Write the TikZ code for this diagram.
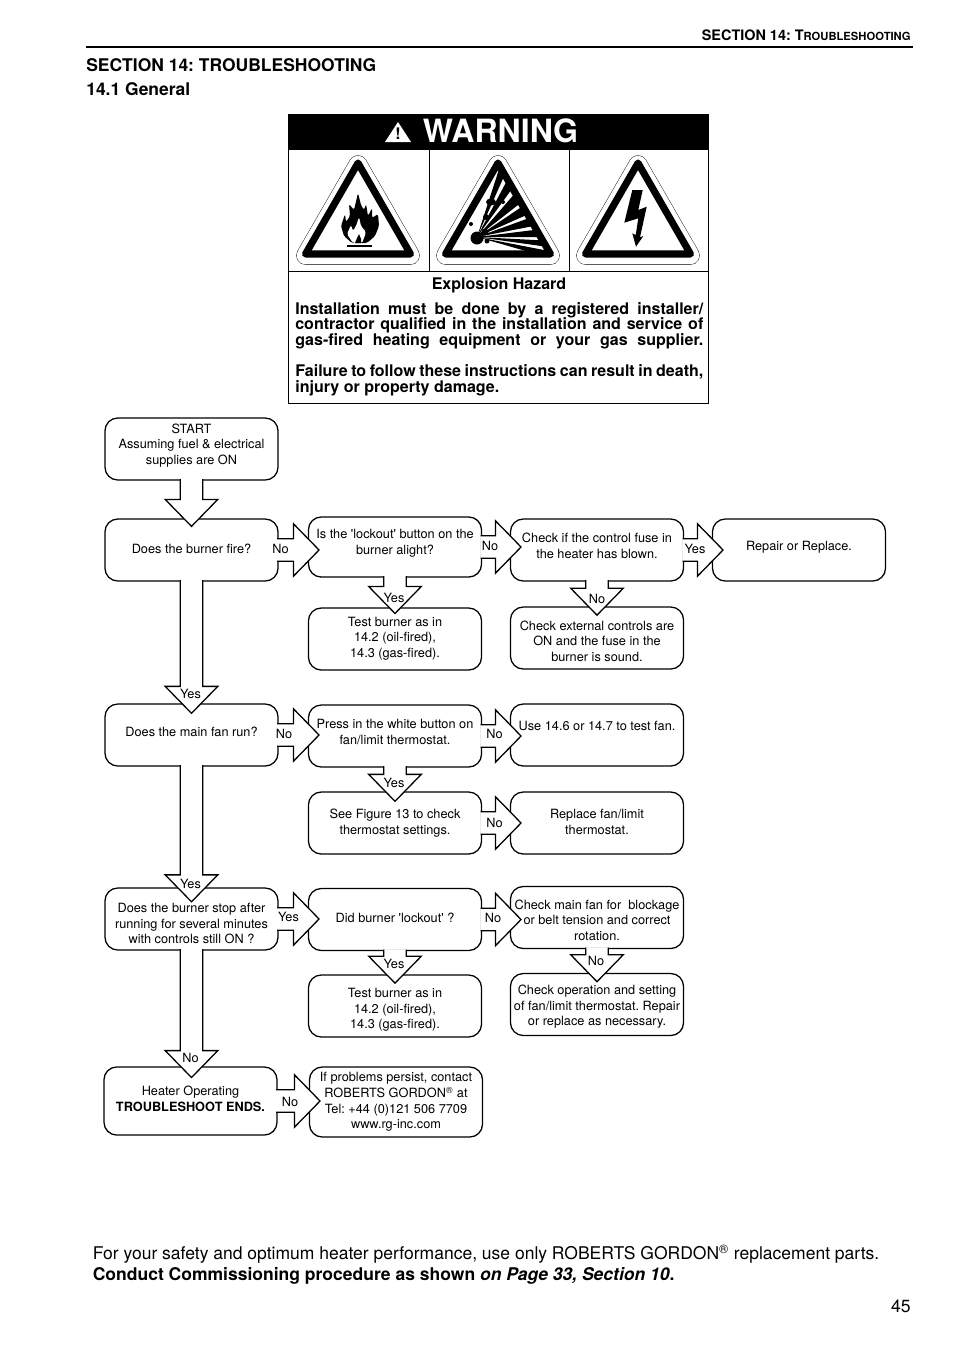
\documentclass[tikz,border=0pt]{standalone}
\usepackage{fontspec}
\setmainfont{TeX Gyre Heros}
\usetikzlibrary{calc}
\frenchspacing
\tikzset{
    flowbox/.style={rectangle,draw,line width=.8pt,rounded corners=8pt,inner sep=0pt,align=center,
        minimum width=108pt,minimum height=38.7pt,font=\fontsize{7.95}{9.7}\selectfont},
    flowlabel/.style={inner sep=0pt,font=\fontsize{7.95}{9.7}\selectfont},
    flowdown/.style={draw,fill=white,line width=.8pt,to path={let \p1=(\tikztostart), \p2=(\tikztotarget) in
        (\x1-7pt,\y1+1pt) -- (\x1-7pt,\y2-#1+16.8pt) -- (\x1-16.4pt,\y2-#1+16.8pt) -- (\x1,\y2-#1)
        -- (\x1+16.4pt,\y2-#1+16.8pt) -- (\x1+7pt,\y2-#1+16.8pt) -- (\x1+7pt,\y1+1pt)}},
    flowdown/.default=5.5pt,
    flowright/.style={draw,fill=white,line width=.8pt,to path={let \p1=(\tikztostart), \p2=(\tikztotarget) in
        (\x1-1pt,\y1+7pt) -- (\x2-9pt,\y1+7pt) -- (\x2-9pt,\y1+16.4pt) -- (\x2+7pt,\y1)
        -- (\x2-9pt,\y1-16.4pt) -- (\x2-9pt,\y1-7pt) -- (\x1-1pt,\y1-7pt)}},
    hazardring/.style={line join=round,line width=#1},
    bodytext/.style={inner sep=0pt,font=\fontsize{10}{9.7}\selectfont\bfseries},
}
\begin{document}
\begin{tikzpicture}[x=0.624pt,y=-0.624pt]
    \useasboundingbox (0,0) rectangle (954,1352);

    \node[anchor=east,inner sep=0pt,font=\fontsize{9}{10}\selectfont\bfseries] (runninghead) at (911,35.5)
        {SECTION 14: T{\fontsize{7}{10}\selectfont ROUBLESHOOTING}};
    \draw[line width=1.3pt] (86,47) -- (913,47);
    \node[anchor=west,inner sep=0pt,font=\fontsize{10.9}{13}\selectfont\bfseries] (sectiontitle) at (86,65) {SECTION 14: TROUBLESHOOTING};
    \node[anchor=west,inner sep=0pt,font=\fontsize{10.9}{13}\selectfont\bfseries] (generaltitle) at (86,89) {14.1 General};

    % warning panel
    \fill (288.5,114.5) rectangle (708.5,150);
    \draw[line width=.6pt] (288.5,114.5) rectangle (708.5,403.5);
    \draw[line width=.6pt] (288.5,271) -- (708.5,271);
    \draw[line width=.6pt] (429.5,150) -- (429.5,271);
    \draw[line width=.6pt] (569,150) -- (569,271);
    \fill[white,line join=round] (385,142) -- (398,122) -- (411,142) -- cycle;
    \node[inner sep=0pt,font=\fontsize{10}{10}\selectfont\bfseries] (warnmark) at (398,134) {!};
    \node[inner sep=0pt,text=white,font=\fontsize{20}{20}\selectfont\bfseries] (warningtitle) at (500.5,131) {WARNING};
    \foreach \cx in {358,498,638} {
        \draw[hazardring=11.6pt] (\cx-52.5,255.5) -- (\cx,164.5) -- (\cx+52.5,255.5) -- cycle;
        \draw[white,hazardring=11.1pt] (\cx-52.5,255.5) -- (\cx,164.5) -- (\cx+52.5,255.5) -- cycle;
        \fill[white] (\cx-52.5,254) -- (\cx,163) -- (\cx+52.5,254) -- cycle;
    }
    % flame
    \fill[rounded corners=1pt] (352,243) -- (344,236) -- (341,226) -- (345,214) -- (346,222) -- (350,216) -- (349,204)
        -- (354,210) -- (358,193) -- (361,205) -- (364,210) -- (366,204) -- (368,216) -- (372,208) -- (372,218)
        -- (378,214) -- (379,226) -- (375,236) -- (367,243) -- cycle;
    \fill[white,rounded corners=1pt] (353,243) -- (347,234) -- (351,225) -- (353,231) -- (356,226) -- (359,217) -- (361,226)
        -- (366,232) -- (364,238) -- (362,243) -- cycle;
    \fill (355,243) -- (357,238) -- (359,234) -- (361,239) -- (361,243) -- cycle;
    \draw[line width=.8pt] (347,246) -- (372,246);
    % burst
    \begin{scope}
        \clip (498-52.5,254) -- (498,163) -- (498+52.5,254) -- cycle;
        \begin{scope}[shift={(477,237)}]
            \foreach \a/\b in {-16/-11,-8/-3,0/7,11/20,24/34,38/49,54/62,66/72} {
                \fill (0,0) -- (-\a:95) -- (-\b:95) -- cycle;
            }
        \end{scope}
        \fill (477,238) circle[radius=6.5];
        \fill (485,232) circle[radius=3.5];
        \fill (487,241) circle[radius=2.5];
        \fill (491,202) ellipse[x radius=5,y radius=3.5];
        \fill (486,217) circle[radius=3];
        \fill (503,202) circle[radius=2];
        \fill (471,224) circle[radius=2];
    \end{scope}
    % bolt
    \fill (632.3,190) -- (642.7,190) -- (638.3,210) -- (646.7,206.7) -- (640,237.3) -- (643.3,236) -- (636,246.7)
        -- (632.3,233.3) -- (635.7,235) -- (638.3,218.3) -- (624.3,222.7) -- cycle;
    \foreach \cx in {358,498,638} {
        \draw[hazardring=4.4pt] (\cx-52.5,254) -- (\cx,163) -- (\cx+52.5,254) -- cycle;
    }

    \node[bodytext] (hazardname) at (499,285) {Explosion Hazard};
    \node[bodytext,anchor=north west,text width=254.6pt,align=justify] (installtext) at (295,302)
        {Installation must be done by a registered installer/\linebreak
        contractor qualified in the installation and service of\linebreak
        gas-fired heating equipment or your gas supplier.\linebreak};
    \node[bodytext,anchor=north west,text width=254.6pt,align=justify,font=\fontsize{10}{10.3}\selectfont\bfseries] (failuretext) at (295,364)
        {Failure to follow these instructions can result in death,\linebreak
        injury or property damage.};

    % flow chart boxes
    \node[flowbox,text depth=6pt] (start) at (191.5,449) {START\\Assuming fuel \& electrical\\supplies are ON};
    \node[flowbox,text depth=1.5pt] (burnerfire) at (191.5,550) {Does the burner fire?};
    \node[flowbox,text depth=6.5pt,minimum height=37.5pt] (lockoutlit) at (395,547) {Is the \textquotesingle lockout\textquotesingle{} button on the\\burner alight?};
    \node[flowbox,text depth=5.5pt] (controlfuse) at (597,550) {Check if the control fuse in\\the heater has blown.};
    \node[flowbox,text depth=5.5pt] (repair) at (799,550) {Repair or Replace.};
    \node[flowbox,text depth=2.5pt] (testoil) at (395,639) {Test burner as in\\14.2 (oil-fired),\\14.3 (gas-fired).};
    \node[flowbox,text height=29pt] (externalctrl) at (597,638) {Check external controls are\\ON and the fuse in the\\burner is sound.};

    \node[flowbox,text depth=4pt] (mainfan) at (191.5,735) {Does the main fan run?};
    \node[flowbox,text depth=5.5pt] (whitebutton) at (395,736) {Press in the white button on\\fan/limit thermostat.};
    \node[flowbox,text depth=11.5pt] (testfan) at (597,735) {Use 14.6 or 14.7 to test fan.};
    \node[flowbox,text depth=1.7pt] (figure) at (395,823) {See Figure 13 to check\\thermostat settings.};
    \node[flowbox,text depth=1.7pt] (replacefan) at (597,823) {Replace fan/limit\\thermostat.};

    \node[flowbox,text height=31pt] (burnerstop) at (191.5,919) {Does the burner stop after\\running for several minutes\\with controls still ON ?};
    \node[flowbox,text depth=2pt] (didlockout) at (395,919.5) {Did burner \textquotesingle lockout\textquotesingle{} ?};
    \node[flowbox,text height=28.5pt] (checkbelt) at (597,917.5) {Check main fan for ~blockage\\or belt tension and correct\\rotation.};
    \node[flowbox,text height=30pt] (testgas) at (395,1006) {Test burner as in\\14.2 (oil-fired),\\14.3 (gas-fired).};
    \node[flowbox,text height=28pt] (checkstat) at (597,1004.5) {Check operation and setting\\of fan/limit thermostat. Repair\\or replace as necessary.};

    \node[flowbox,text depth=3pt,minimum height=42.5pt] (heater) at (190.5,1101) {Heater Operating\\\textbf{TROUBLESHOOT ENDS.}};
    \node[flowbox,text depth=1.7pt,minimum height=43.7pt] (contact) at (396,1102) {If problems persist, contact\\ROBERTS GORDON\textsuperscript{\textregistered} at\\Tel: +44 (0)121 506 7709\\www.rg-inc.com};

    % block arrows
    \draw[flowdown=5pt] (start.south) to (burnerfire.north);
    \draw[flowdown=6.2pt] (burnerfire.south) to (mainfan.north);
    \draw[flowdown=9pt] (mainfan.south) to (burnerstop.north);
    \draw[flowdown=7pt] (burnerstop.south) to (heater.north);
    \draw[flowdown=3.8pt] (lockoutlit.south) to (testoil.north);
    \draw[flowdown] (controlfuse.south) to (externalctrl.north);
    \draw[flowdown=6.2pt] (whitebutton.south) to (figure.north);
    \draw[flowdown] (didlockout.south) to (testgas.north);
    \draw[flowdown] (checkbelt.south) to (checkstat.north);
    \draw[flowright] (burnerfire.east) to (lockoutlit.west);
    \draw[flowright] (lockoutlit.east) to (controlfuse.west);
    \draw[flowright] (controlfuse.east) to (repair.west);
    \draw[flowright] (mainfan.east) to (whitebutton.west);
    \draw[flowright] (whitebutton.east) to (testfan.west);
    \draw[flowright] (figure.east) to (replacefan.west);
    \draw[flowright] (burnerstop.east) to (didlockout.west);
    \draw[flowright] (didlockout.east) to (checkbelt.west);
    \draw[flowright] (heater.east) to (contact.west);

    \node[flowlabel] (yesfire) at (190.5,694) {Yes};
    \node[flowlabel] (yesfan) at (190.5,884) {Yes};
    \node[flowlabel] (nostop) at (190.5,1058) {No};
    \node[flowlabel] (yeslit) at (394,598) {Yes};
    \node[flowlabel] (nofuse) at (597,599) {No};
    \node[flowlabel] (yesbutton) at (394,783) {Yes};
    \node[flowlabel] (yeslockout) at (394,964) {Yes};
    \node[flowlabel] (nobelt) at (596,961) {No};
    \node[flowlabel] (nofire) at (280.5,549) {No};
    \node[flowlabel] (nolit) at (490,546) {No};
    \node[flowlabel] (yesfuse) at (695,549) {Yes};
    \node[flowlabel] (norun) at (284,734) {No};
    \node[flowlabel] (nobutton) at (494.5,734) {No};
    \node[flowlabel] (nofigure) at (494.5,823) {No};
    \node[flowlabel] (yesstop) at (288.5,917) {Yes};
    \node[flowlabel] (nolockout) at (493,918) {No};
    \node[flowlabel] (noheater) at (290,1102) {No};

    \node[anchor=west,inner sep=0pt,font=\fontsize{10.93}{13}\selectfont] (safetyline) at (92.5,1254)
        {For your safety and optimum heater performance, use only ROBERTS GORDON\textsuperscript{\textregistered} replacement parts.};
    \node[anchor=west,inner sep=0pt,font=\fontsize{10.93}{13}\selectfont\bfseries] (commissionline) at (92.5,1275.5)
        {Conduct Commissioning procedure as shown \textit{on Page 33, Section 10}.};
    \node[anchor=east,inner sep=0pt,font=\fontsize{11}{13}\selectfont] (pagenumber) at (911,1306) {45};
\end{tikzpicture}
\end{document}
